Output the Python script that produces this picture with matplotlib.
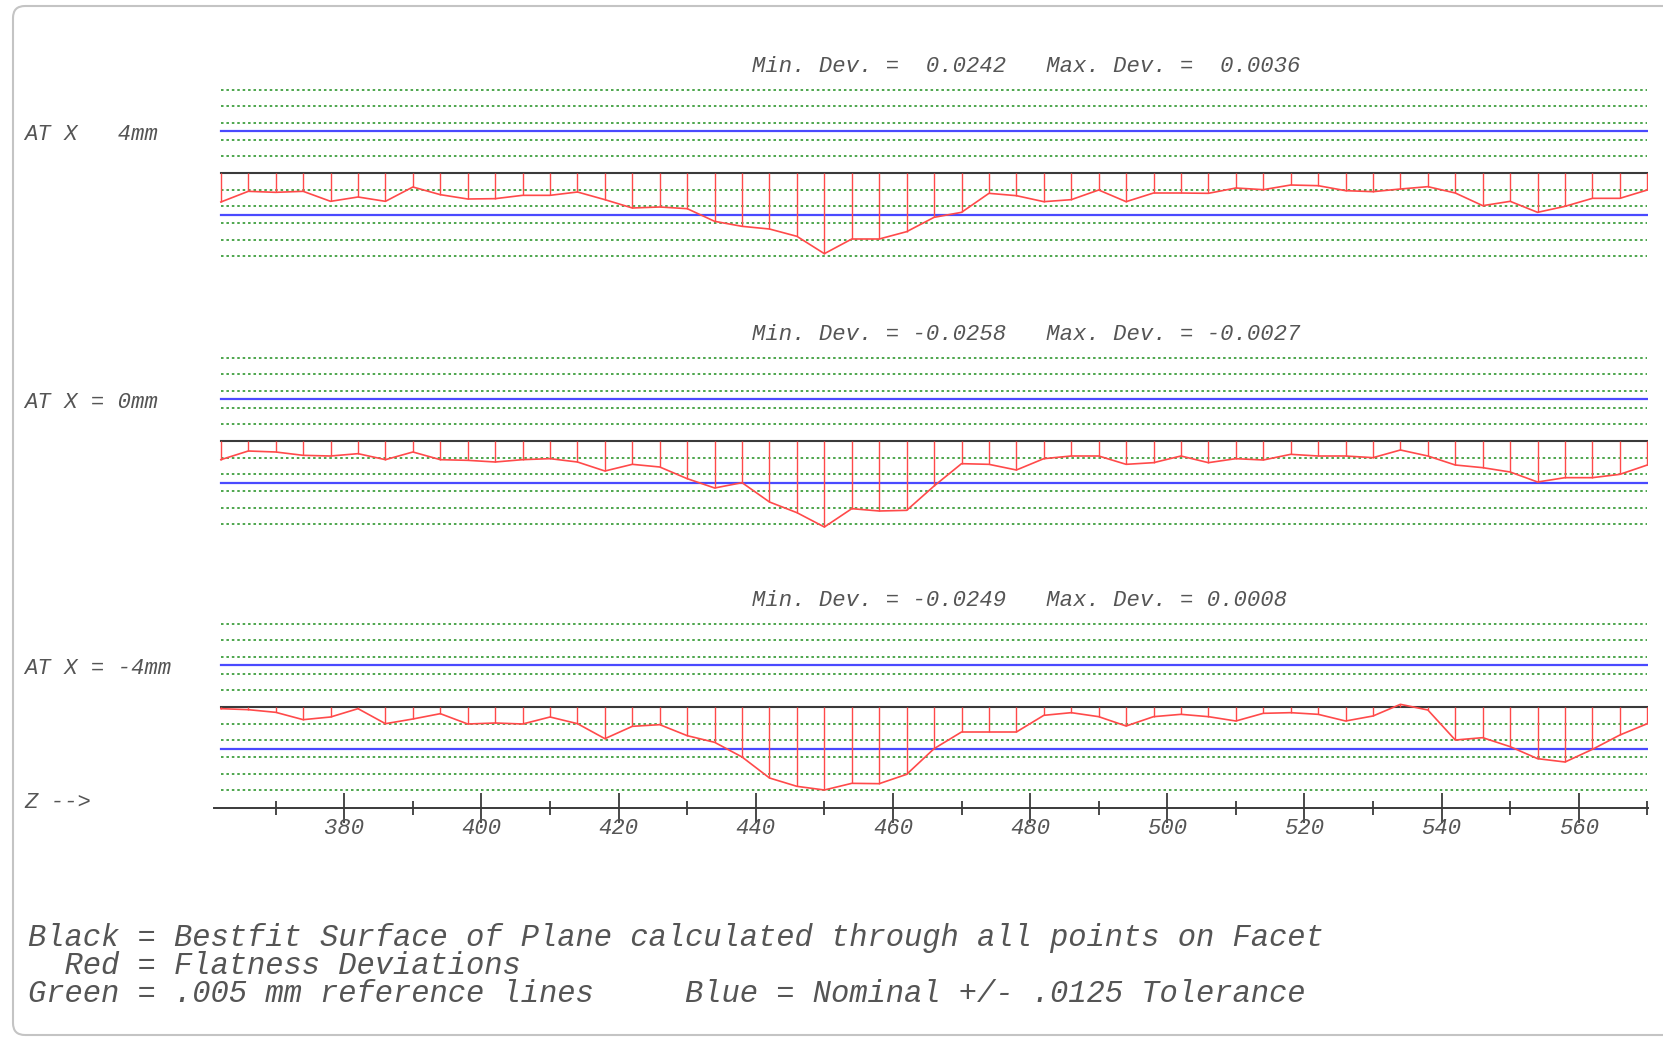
import numpy as np
import matplotlib
matplotlib.use("Agg")
import matplotlib.pyplot as plt
from matplotlib.patches import FancyBboxPatch
from matplotlib.transforms import IdentityTransform

# measurement positions along Z (mm)
z_pos = list(range(362, 571, 4))

# flatness deviations (mm) for each section
dev_x4 = [-0.0087, -0.0055, -0.0058, -0.0055, -0.0085, -0.0072, -0.0085, -0.0042,
          -0.0065, -0.0078, -0.0077, -0.0067, -0.0067, -0.0057, -0.0080, -0.0105,
          -0.0102, -0.0107, -0.0145, -0.0160, -0.0168, -0.0190, -0.0242,
          -0.0198, -0.0198, -0.0176, -0.0133, -0.0118, -0.0061, -0.0068, -0.0086,
          -0.0080, -0.0051, -0.0086, -0.0060, -0.0060, -0.0061, -0.0045, -0.0050,
          -0.0036, -0.0038, -0.0053, -0.0056, -0.0048, -0.0041, -0.0060, -0.0098,
          -0.0085, -0.0118, -0.0100, -0.0076, -0.0076, -0.0051]
dev_x0 = [-0.0056, -0.0030, -0.0033, -0.0043, -0.0045, -0.0038, -0.0056, -0.0033,
          -0.0056, -0.0058, -0.0063, -0.0056, -0.0053, -0.0063, -0.0090, -0.0070,
          -0.0078, -0.0113, -0.0141, -0.0125, -0.0183, -0.0215, -0.0258,
          -0.0203, -0.0210, -0.0208, -0.0135, -0.0068, -0.0070, -0.0087, -0.0053,
          -0.0045, -0.0045, -0.0070, -0.0065, -0.0045, -0.0065, -0.0053, -0.0057,
          -0.0040, -0.0045, -0.0045, -0.0050, -0.0027, -0.0045, -0.0072, -0.0080,
          -0.0093, -0.0123, -0.0110, -0.0110, -0.0100, -0.0072]
dev_xm4 = [-0.0005, -0.0008, -0.0016, -0.0038, -0.0030, -0.0005, -0.0050, -0.0036,
           -0.0020, -0.0051, -0.0048, -0.0051, -0.0030, -0.0050, -0.0095, -0.0058,
           -0.0053, -0.0086, -0.0106, -0.0150, -0.0213, -0.0238, -0.0249,
           -0.0229, -0.0230, -0.0202, -0.0125, -0.0075, -0.0075, -0.0075, -0.0025,
           -0.0017, -0.0029, -0.0057, -0.0029, -0.0022, -0.0029, -0.0042, -0.0019,
           -0.0017, -0.0022, -0.0042, -0.0027, 0.0008, -0.0009, -0.0099, -0.0092,
           -0.0119, -0.0155, -0.0165, -0.0127, -0.0084, -0.0050]

section_labels = ["AT X   4mm", "AT X = 0mm", "AT X = -4mm"]
dev_texts = ["Min. Dev. =  0.0242   Max. Dev. =  0.0036",
             "Min. Dev. = -0.0258   Max. Dev. = -0.0027",
             "Min. Dev. = -0.0249   Max. Dev. = 0.0008"]
ref_lines = [0.005, 0.010, 0.015, 0.020, 0.025]
tolerance = 0.0125

W, H = 1663, 1037
fig = plt.figure(figsize=(W / 100, H / 100), dpi=100)
fig.patch.set_facecolor("white")

font = ["Liberation Mono", "DejaVu Sans Mono"]
txt_color = "#555555"
green, blue, red, black = "#3f9f3f", "#4a4aff", "#ff4a4a", "#3a3a3a"

# rounded frame around the report
frame = FancyBboxPatch((13, 2), W + 60, 1029, boxstyle="round,pad=0,rounding_size=12",
                       transform=IdentityTransform(), fill=False,
                       edgecolor="#c4c4c4", linewidth=1.5)
fig.add_artist(frame)

centers = [173, 441, 707]          # pixel row of each best-fit line
all_dev = [dev_x4, dev_x0, dev_xm4]
x_left, x_right = 214, 1648

for i, (yc, dev) in enumerate(zip(centers, all_dev)):
    last = i == 2
    top = yc - 100
    bottom = 808 if last else yc + 100
    ax = fig.add_axes([x_left / W, 1 - bottom / H, (x_right - x_left) / W, (bottom - top) / H])
    ax.set_xlim(361.0, 570.1)
    ax.set_ylim(-0.0303 if last else -0.03, 0.03)
    ax.patch.set_alpha(0)

    for r in ref_lines:
        for s in (1, -1):
            ax.plot([z_pos[0], z_pos[-1]], [s * r, s * r], color=green,
                    linestyle=(0, (1.4, 1.6)), linewidth=1.3)
    for s in (1, -1):
        ax.plot([z_pos[0], z_pos[-1]], [s * tolerance, s * tolerance], color=blue, linewidth=1.6)
    ax.plot([z_pos[0], z_pos[-1]], [0, 0], color=black, linewidth=1.5)

    ax.vlines(z_pos, 0, dev, color=red, linewidth=1.0)
    ax.plot(z_pos, dev, color=red, linewidth=1.2)

    for sp in ax.spines.values():
        sp.set_visible(False)
    ax.set_yticks([])
    if last:
        ax.spines["bottom"].set_visible(True)
        ax.spines["bottom"].set_color(black)
        ax.spines["bottom"].set_linewidth(1.4)
        ax.set_xticks(range(380, 561, 20))
        ax.set_xticks(range(370, 571, 20), minor=True)
        ax.tick_params(axis="x", which="major", direction="inout", length=21, width=1.3,
                       color=black, pad=-3, labelsize=16, labelcolor=txt_color)
        ax.tick_params(axis="x", which="minor", direction="inout", length=10, width=1.3,
                       color=black)
        for lab in ax.get_xticklabels():
            lab.set_family(font)
            lab.set_style("italic")
    else:
        ax.set_xticks([])

    fig.text(752 / W, 1 - (yc - 106) / H, dev_texts[i], family=font, style="italic",
             fontsize=16, color=txt_color, va="center", ha="left")
    fig.text(24 / W, 1 - (yc - 38) / H, section_labels[i], family=font, style="italic",
             fontsize=16, color=txt_color, va="center", ha="left")

fig.text(24 / W, 1 - 802 / H, "Z -->", family=font, style="italic",
         fontsize=16, color=txt_color, va="center", ha="left")

legend_lines = ["Black = Bestfit Surface of Plane calculated through all points on Facet",
                "  Red = Flatness Deviations",
                "Green = .005 mm reference lines     Blue = Nominal +/- .0125 Tolerance"]
fig.text(28 / W, 1 - 966 / H, "\n".join(legend_lines), family=font, style="italic",
         fontsize=22, color=txt_color, va="center", ha="left", linespacing=0.93)

fig.savefig("out.png", dpi=100)
